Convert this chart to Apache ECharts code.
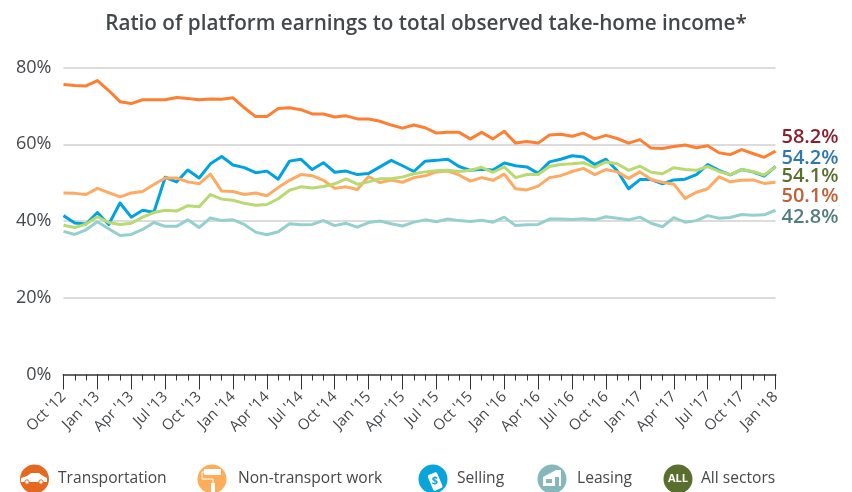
<!DOCTYPE html>
<html>
<head>
<meta charset="utf-8">
<title>Platform earnings</title>
<script src="https://cdn.jsdelivr.net/npm/echarts@6/dist/echarts.min.js"></script>
<style>
  html, body { margin: 0; padding: 0; background: #fff; }
  #chart { width: 852px; height: 492px; }
</style>
</head>
<body>
<div id="chart"></div>
<script>
const months = ['Oct', 'Nov', 'Dec', 'Jan', 'Feb', 'Mar', 'Apr', 'May', 'Jun', 'Jul', 'Aug', 'Sep']
const years = [12, 13, 14, 15, 16, 17, 18]
const yTicks = [0, 20, 40, 60, 80]

const transportation = [75.6, 75.3, 75.2, 76.6, 74.0, 71.1, 70.6, 71.6, 71.6, 71.6, 72.2, 71.9, 71.6, 71.8, 71.7, 72.1, 69.5, 67.2, 67.2, 69.3, 69.5, 69.0, 67.9, 67.9, 67.1, 67.4, 66.6, 66.6, 66.0, 65.0, 64.2, 65.0, 64.3, 62.9, 63.1, 63.1, 61.4, 63.1, 61.4, 63.4, 60.3, 60.7, 60.3, 62.4, 62.6, 62.1, 62.9, 61.4, 62.3, 61.5, 60.3, 61.2, 59.0, 58.9, 59.4, 59.8, 59.1, 59.6, 57.8, 57.3, 58.6, 57.6, 56.6, 58.2]
const nonTransport = [47.3, 47.2, 46.9, 48.5, 47.4, 46.3, 47.3, 47.7, 49.5, 51.2, 51.2, 50.2, 49.7, 52.2, 47.8, 47.7, 46.9, 47.3, 46.6, 48.7, 50.6, 52.1, 51.8, 50.6, 48.5, 48.9, 48.2, 51.6, 50.0, 50.7, 50.1, 51.3, 51.8, 52.8, 53.0, 52.0, 50.4, 51.3, 50.6, 52.2, 48.4, 48.1, 49.1, 51.3, 51.8, 52.9, 53.7, 52.1, 53.4, 52.8, 51.1, 52.8, 50.8, 50.1, 49.6, 45.9, 47.5, 48.4, 51.5, 50.2, 50.6, 50.7, 49.8, 50.1]
const selling = [41.4, 39.5, 39.2, 42.2, 39.1, 44.7, 41.0, 42.8, 42.3, 51.4, 50.2, 53.3, 51.2, 54.9, 56.8, 54.6, 53.9, 52.6, 53.0, 50.9, 55.6, 56.1, 53.4, 55.2, 52.7, 53.0, 52.1, 52.4, 54.1, 55.8, 54.4, 52.9, 55.6, 55.8, 56.1, 54.2, 53.2, 53.5, 53.3, 55.1, 54.4, 54.1, 52.4, 55.4, 56.1, 57.0, 56.7, 54.7, 56.1, 53.1, 48.4, 50.8, 50.8, 49.7, 50.7, 50.9, 52.1, 54.7, 53.2, 52.0, 53.4, 52.8, 51.7, 54.2]
const leasing = [37.3, 36.5, 37.7, 39.8, 38.0, 36.2, 36.5, 37.8, 39.6, 38.6, 38.6, 40.3, 38.3, 40.8, 40.1, 40.3, 39.1, 37.1, 36.4, 37.2, 39.3, 39.0, 39.1, 40.1, 38.8, 39.4, 38.4, 39.6, 40.0, 39.3, 38.7, 39.7, 40.3, 39.8, 40.5, 40.1, 39.9, 40.2, 39.7, 41.0, 38.8, 39.0, 39.1, 40.5, 40.5, 40.4, 40.6, 40.3, 41.1, 40.7, 40.3, 41.0, 39.4, 38.5, 40.9, 39.7, 40.1, 41.4, 40.7, 40.9, 41.7, 41.5, 41.6, 42.8]
const allSectors = [38.9, 38.3, 39.2, 41.1, 39.6, 39.1, 39.4, 41.0, 42.2, 42.8, 42.6, 44.0, 43.7, 46.9, 45.7, 45.4, 44.6, 44.1, 44.3, 45.8, 48.0, 48.9, 48.6, 49.0, 49.7, 51.0, 49.6, 50.2, 51.0, 51.0, 51.5, 52.3, 52.8, 53.1, 53.2, 52.9, 53.2, 54.0, 52.7, 54.1, 51.3, 52.1, 52.1, 54.2, 54.7, 54.9, 55.2, 54.0, 55.4, 54.9, 53.2, 54.3, 52.7, 52.3, 53.9, 53.4, 53.2, 54.2, 52.9, 52.1, 53.4, 52.9, 52.0, 54.1]

// Oct '12 .. Jan '18, one category a month
const categories = []
for (let i = 0; i < 64; i++) {
  const yr = years[Math.floor((i + 9) / 12)]
  categories.push(months[i % 12] + " '" + yr)
}

const font = '"Open Sans", "Noto Sans", sans-serif'
const grey = '#45484b'

const makeSeries = (name, data, color, labelColor, dy, z) => ({
  name,
  type: 'line',
  data,
  z,
  symbol: 'none',
  smooth: false,
  animation: false,
  lineStyle: { color, width: 3, join: 'round' },
  endLabel: {
    show: true,
    formatter: p => p.value.toFixed(1) + '%',
    color: labelColor,
    fontFamily: font,
    fontSize: 20,
    fontWeight: 600,
    distance: 6,
    offset: [0, dy]
  }
})

const legendItem = (cx, name, color, textX, glyph) => [
  { type: 'circle', shape: { cx, cy: 479, r: 14.5 }, style: { fill: color } },
  ...glyph,
  {
    type: 'text',
    x: textX,
    y: 479,
    style: { text: name, fontFamily: font, fontSize: 15.6, fill: grey, verticalAlign: 'middle' }
  }
]

const chart = echarts.init(document.getElementById('chart'), null, { renderer: 'canvas' })
chart.setOption({
  animation: false,
  backgroundColor: '#fff',
  title: {
    text: 'Ratio of platform earnings to total observed take-home income*',
    left: 'center',
    top: 9,
    textStyle: { fontFamily: font, fontSize: 20.7, fontWeight: 600, color: grey }
  },
  grid: { left: 63.5, right: 76.5, top: 67.5, bottom: 117.5 },
  xAxis: [
    {
      type: 'category',
      data: categories,
      boundaryGap: false,
      axisLine: { lineStyle: { color: '#666', width: 2 } },
      axisTick: { interval: 2, length: 15, lineStyle: { color: '#333', width: 1 } },
      axisLabel: {
        interval: 2,
        rotate: 45,
        margin: 20,
        fontFamily: font,
        fontSize: 15,
        color: grey,
        showMaxLabel: true
      }
    },
    {
      type: 'category',
      position: 'bottom',
      data: categories,
      boundaryGap: false,
      axisLine: { show: false },
      axisTick: { interval: 0, length: 6, lineStyle: { color: '#333', width: 1 } },
      axisLabel: { show: false }
    }
  ],
  yAxis: {
    type: 'value',
    min: yTicks[0],
    max: yTicks[yTicks.length - 1],
    interval: 20,
    axisLine: { show: false },
    axisTick: { show: false },
    axisLabel: { formatter: '{value}%', margin: 12, fontFamily: font, fontSize: 18, color: grey },
    splitLine: { lineStyle: { color: '#dcdcdc', width: 2 } }
  },
  series: [
    makeSeries('Selling', selling, '#00a3e0', '#2f77ae', -8, 2),
    makeSeries('Leasing', leasing, '#95d0cf', '#527e7f', 7, 3),
    makeSeries('Non-transport work', nonTransport, '#fdaa63', '#c0613a', 14, 4),
    makeSeries('All sectors', allSectors, '#b9d971', '#5a6e30', 9, 5),
    makeSeries('Transportation', transportation, '#ff7f32', '#8a1f2d', -14, 6)
  ],
  graphic: [
    ...legendItem(34.5, 'Transportation', '#e4681f', 58, [
      { type: 'polygon', shape: { points: [[21, 482], [21, 478], [27, 476], [31, 473], [39, 473], [43, 476], [47, 478], [47, 482]] }, style: { fill: '#fff' } },
      { type: 'circle', shape: { cx: 27, cy: 482, r: 2.2 }, style: { fill: '#fff', stroke: '#e4681f' } },
      { type: 'circle', shape: { cx: 41, cy: 482, r: 2.2 }, style: { fill: '#fff', stroke: '#e4681f' } }
    ]),
    ...legendItem(212, 'Non-transport work', '#fdac5a', 238, [
      { type: 'rect', shape: { x: 204, y: 469, width: 17, height: 6, r: 1 }, style: { fill: '#fff' } },
      { type: 'polyline', shape: { points: [[204, 472], [202, 472], [202, 479], [213, 479], [213, 483]] }, style: { fill: 'none', stroke: '#fff', lineWidth: 1 } },
      { type: 'rect', shape: { x: 211, y: 483, width: 4, height: 9 }, style: { fill: '#fff' } }
    ]),
    ...legendItem(433, 'Selling', '#0aa4dd', 457, [
      { type: 'rect', x: 435, y: 481, rotation: 0.4, shape: { x: -5, y: -8, width: 10, height: 17, r: 2 }, style: { fill: '#fff' } },
      { type: 'text', x: 435, y: 481, style: { text: '$', fontFamily: font, fontSize: 11, fontWeight: 700, fill: '#0aa4dd', align: 'center', verticalAlign: 'middle' } }
    ]),
    ...legendItem(552, 'Leasing', '#86b8bb', 577, [
      { type: 'polygon', shape: { points: [[543, 477], [556, 470], [561, 470], [561, 486], [543, 486]] }, style: { fill: '#fff' } },
      { type: 'rect', shape: { x: 546, y: 479, width: 6, height: 4 }, style: { fill: '#86b8bb' } },
      { type: 'rect', shape: { x: 555, y: 477, width: 4, height: 9 }, style: { fill: '#86b8bb' } }
    ]),
    ...legendItem(678, 'All sectors', '#5a6e2d', 701, [
      { type: 'text', x: 678, y: 479, style: { text: 'ALL', fontFamily: font, fontSize: 11, fontWeight: 700, fill: '#fff', align: 'center', verticalAlign: 'middle' } }
    ])
  ]
})
</script>
</body>
</html>
